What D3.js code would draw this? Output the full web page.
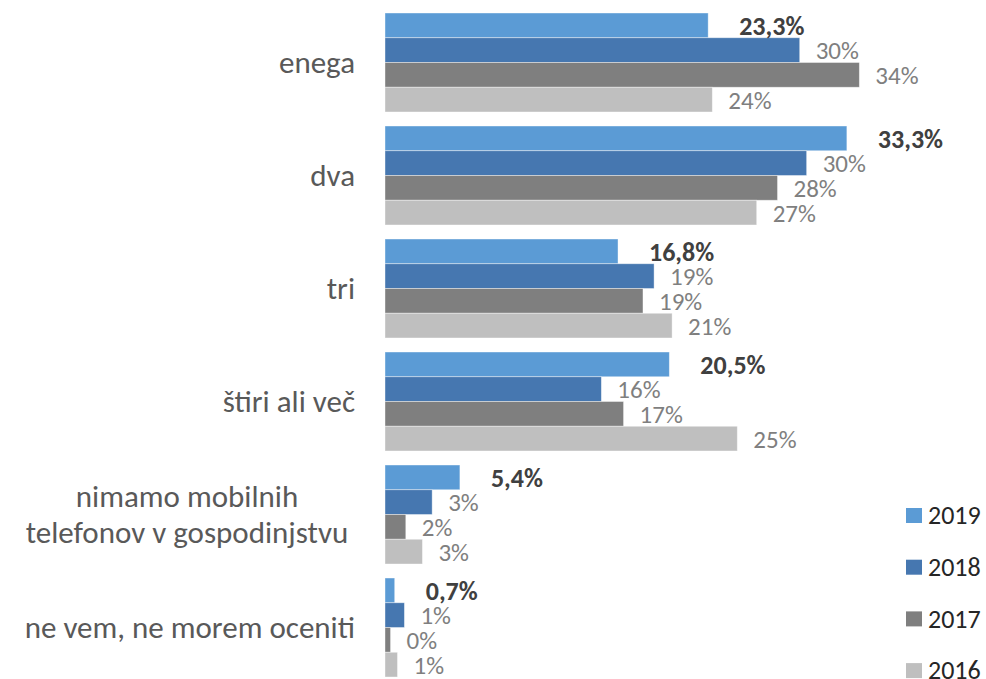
<!DOCTYPE html>
<meta charset="utf-8">
<script src="https://d3js.org/d3.v7.min.js"></script>
<style>
  body { margin: 0; background: #fff; }
  text { font-family: Calibri, Carlito, Lato, sans-serif; }
</style>
<body>
<svg width="986" height="679"></svg>
<script>
var categories = ["enega", "dva", "tri", "štiri ali več", "nimamo mobilnih|telefonov v gospodinjstvu", "ne vem, ne morem oceniti"];
var years = ["2019", "2018", "2017", "2016"];
var v2019 = [23.3, 33.3, 16.8, 20.5, 5.4, 0.7];
var v2018 = [29.9, 30.4, 19.4, 15.6, 3.4, 1.4];
var v2017 = [34.2, 28.3, 18.6, 17.2, 1.5, 0.4];
var v2016 = [23.6, 26.8, 20.7, 25.4, 2.7, 0.9];
var colors = ["#5b9bd5", "#4677b0", "#7f7f7f", "#bfbfbf"];

var series = [v2019, v2018, v2017, v2016];

var svg = d3.select("svg"),
    margin = {top: 13, right: 0, bottom: 2, left: 385},
    width = 986 - margin.left - margin.right,
    height = 679 - margin.top - margin.bottom;

var g = svg.append("g").attr("transform", "translate(" + margin.left + "," + margin.top + ")");

var y0 = d3.scaleBand().domain(categories).range([0, 664]).paddingInner(0.124).paddingOuter(0);
var y1 = d3.scaleBand().domain(years).range([0, y0.bandwidth()]);
var x = d3.scaleLinear().domain([0, 10]).range([0, 138.7]);

var rows = categories.map(function(c, i) {
  return {cat: c, vals: years.map(function(yr, j) { return {year: yr, idx: j, value: series[j][i]}; })};
});

var grp = g.selectAll(".grp")
  .data(rows)
  .enter().append("g")
  .attr("class", "grp")
  .attr("transform", function(d) { return "translate(0," + y0(d.cat) + ")"; });

grp.selectAll("rect")
  .data(function(d) { return d.vals; })
  .enter().append("rect")
  .attr("x", 0)
  .attr("y", function(d) { return y1(d.year); })
  .attr("width", function(d) { return x(d.value); })
  .attr("height", y1.bandwidth())
  .attr("fill", function(d) { return colors[d.idx]; })
  .attr("stroke", "#fff")
  .attr("stroke-opacity", 0.5)
  .attr("stroke-width", 0.8);

grp.selectAll(".lbl")
  .data(function(d) { return d.vals; })
  .enter().append("text")
  .attr("class", "lbl")
  .attr("x", function(d) { return x(d.value) + (d.idx == 0 ? 31 : 16); })
  .attr("y", function(d) { return y1(d.year) + y1.bandwidth() / 2; })
  .attr("dy", "0.36em")
  .attr("font-size", function(d) { return d.idx == 0 ? 26 : 25; })
  .attr("font-weight", function(d) { return d.idx == 0 ? "bold" : "normal"; })
  .attr("fill", function(d) { return d.idx == 0 ? "#404040" : "#7f7f7f"; })
  .text(function(d) {
    return d.idx == 0 ? d.value.toFixed(1).replace(".", ",") + "%" : Math.round(d.value) + "%";
  });

// category labels
grp.each(function(d) {
  var lines = d.cat.split("|");
  var t = d3.select(this).append("text")
    .attr("fill", "#595959")
    .attr("font-size", 31)
    .attr("text-anchor", lines.length > 1 ? "middle" : "end")
    .attr("x", lines.length > 1 ? -198 : -30)
    .attr("y", y0.bandwidth() / 2 - 1);
  lines.forEach(function(l, k) {
    t.append("tspan")
      .attr("x", lines.length > 1 ? -198 : -30)
      .attr("dy", k == 0 ? (0.36 - (lines.length - 1) * 0.58) + "em" : "1.16em")
      .text(l);
  });
});

// legend
var legend = svg.append("g")
  .selectAll("g")
  .data(years)
  .enter().append("g")
  .attr("transform", function(d, i) { return "translate(906," + (515 + i * 51.7) + ")"; });

legend.append("rect")
  .attr("x", 0)
  .attr("y", -7)
  .attr("width", 16)
  .attr("height", 15)
  .attr("fill", function(d, i) { return colors[i]; });

legend.append("text")
  .attr("x", 22)
  .attr("dy", "0.36em")
  .attr("font-size", 26)
  .attr("fill", "#262626")
  .text(function(d) { return d; });
</script>
</body>
